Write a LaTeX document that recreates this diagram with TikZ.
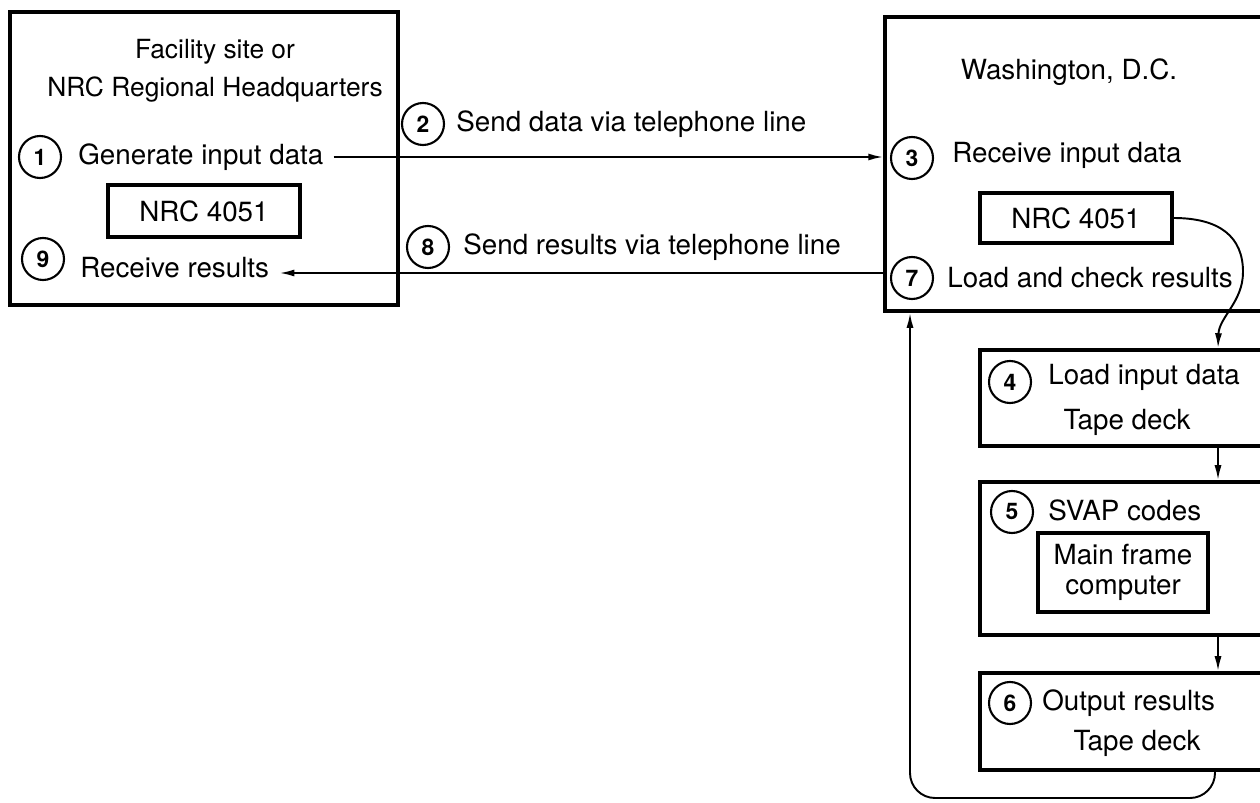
\documentclass[tikz,border=0pt]{standalone}
\usepackage{fontspec}
\setmainfont{TeX Gyre Heros}
\usetikzlibrary{arrows.meta, positioning, calc}

\begin{document}
\begin{tikzpicture}[
  font=\fontsize{15.8}{21.5}\selectfont,
  panel/.style={rectangle, draw, line width=2pt, inner sep=0pt},
  unit/.style={rectangle, draw, line width=1.8pt, inner sep=0pt, align=center},
  numcirc/.style={circle, draw, line width=1.2pt, minimum size=0.84cm, inner sep=0pt, font=\fontsize{13}{13}\selectfont\bfseries},
  txt/.style={anchor=west, inner sep=0pt},
  flow/.style={line width=1.1pt, -{Latex[length=3mm, width=1.4mm]}},
]
  \useasboundingbox (0,0) rectangle (25.2,16.04);

  % Facility site
  \node[panel, minimum width=7.76cm, minimum height=5.86cm] (site) at (4.08,12.87) {};
  \node[align=center, font=\fontsize{15}{21.5}\selectfont] (sitetitle) at (4.3,14.62) {Facility site or\\NRC Regional Headquarters};
  \node[numcirc] (n1) at (0.8,12.9) {1};
  \node[txt] (gen) at (1.56,12.9) {Generate input data};
  \node[unit, minimum width=3.84cm, minimum height=1.04cm] (nrcA) at (4.08,11.82) {NRC 4051};
  \node[numcirc] (n9) at (0.86,10.86) {9};
  \node[txt] (recv) at (1.6,10.68) {Receive results};

  % Washington
  \node[panel, minimum width=7.9cm, minimum height=5.88cm] (wash) at (21.65,12.76) {};
  \node (washtitle) at (21.38,14.6) {Washington, D.C.};
  \node[numcirc] (n3) at (18.24,12.88) {3};
  \node[txt] (rin) at (19.04,12.94) {Receive input data};
  \node[unit, minimum width=3.84cm, minimum height=1.0cm] (nrcB) at (21.52,11.68) {NRC 4051};
  \node[numcirc] (n7) at (18.24,10.48) {7};
  \node[txt] (chk) at (18.94,10.48) {Load and check results};

  % Telephone lines
  \node[numcirc] (n2) at (8.46,13.56) {2};
  \node[txt] (send) at (9.12,13.56) {Send data via telephone line};
  \node[numcirc] (n8) at (8.56,11.1) {8};
  \node[txt] (sendres) at (9.26,11.1) {Send results via telephone line};

  \draw[flow] ([xshift=2mm]gen.east) -- (gen.east -| wash.west);
  \coordinate (rtip) at ([shift={(2mm,-1mm)}]recv.east);
  \draw[flow] (rtip -| wash.west) -- (rtip);

  % Processing chain
  \node[panel, minimum width=6.0cm, minimum height=1.92cm] (tape) at (22.6,8.08) {};
  \node[numcirc] (n4) at (20.2,8.4) {4};
  \node[txt] (loadin) at (20.96,8.5) {Load input data};
  \node (tapeA) at (22.54,7.6) {Tape deck};

  \node[panel, minimum width=6.0cm, minimum height=3.06cm] (svap) at (22.6,4.87) {};
  \node[numcirc] (n5) at (20.24,5.8) {5};
  \node[txt] (codes) at (20.96,5.84) {SVAP codes};
  \node[unit, minimum width=3.4cm, minimum height=1.58cm, font=\fontsize{15.8}{17}\selectfont] (mainframe) at (22.46,4.59) {Main frame\\computer};

  \node[panel, minimum width=6.0cm, minimum height=1.94cm] (outr) at (22.6,1.61) {};
  \node[numcirc] (n6) at (20.2,1.98) {6};
  \node[txt] (outres) at (20.84,1.98) {Output results};
  \node (tapeB) at (22.74,1.18) {Tape deck};

  \coordinate (ax) at (24.36,0);
  \draw[flow] (nrcB.east) .. controls (24.4,11.68) and (24.86,11.3) .. (24.86,10.6)
    .. controls (24.86,10.0) and (24.38,9.7) .. (tape.north -| ax);
  \draw[flow] (tape.south -| ax) -- (svap.north -| ax);
  \draw[flow] (svap.south -| ax) -- (outr.north -| ax);

  % Feedback to Washington
  \coordinate (fb) at (18.2,0.08);
  \draw[flow, rounded corners=0.5cm] (outr.south -| 24.3,0) |- (fb) -- (fb |- wash.south);
\end{tikzpicture}
\end{document}
